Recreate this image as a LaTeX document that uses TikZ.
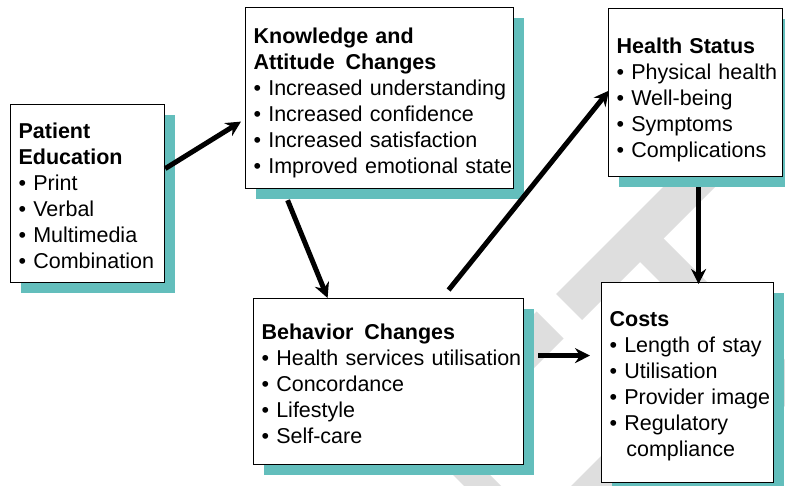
\documentclass[tikz,border=0pt]{standalone}
\usepackage{fontspec}
\setmainfont{Liberation Sans}
\usetikzlibrary{arrows.meta,shadows}

\definecolor{shadowteal}{RGB}{99,190,188}
\definecolor{markgray}{RGB}{222,222,222}

% one unbreakable line per entry
\newcommand\itm[1]{\mbox{\textbullet\ #1}}
\newcommand\ttl[1]{\mbox{\bfseries #1}}

\begin{document}
\begin{tikzpicture}[x=1pt,y=-1pt,
  box/.style={draw=black, line width=1.2pt, fill=white, anchor=north west,
    align=left, inner xsep=8pt, inner ysep=0pt,
    font=\fontsize{21.5}{26}\selectfont,
    drop shadow={shadow xshift=10pt, shadow yshift=-10pt,
      fill=shadowteal, opacity=1}},
  flow/.style={line width=5pt, -{Stealth[length=15pt,width=15pt,inset=5pt]}},
  wmark/.style={fill=markgray}]

\useasboundingbox (0,0) rectangle (785,486);
\clip (0,0) rectangle (785,486);

% faint diagonal watermark lettering
\fill[wmark] (556,294) -- (582,320) -- (731,171) -- (705,145) -- cycle;
\fill[wmark] (639,261) -- (662.5,237.5) -- (812.5,387.5) -- (789,411) -- cycle;
\fill[wmark] (414,434) -- (536.5,311.5) -- (563.5,338.5) -- (441,461) -- cycle;
\fill[wmark] (413,435) -- (431.5,416.5) -- (602.5,587.5) -- (584,606) -- cycle;
\fill[wmark] (517.5,539.5) -- (623.5,433.5) -- (647.5,457.5) -- (541.5,563.5) -- cycle;

% boxes
\node[box, minimum width=154pt, minimum height=178pt, text width=138pt] (pe) at (10,104)
  {\ttl{\rule{0pt}{20pt}Patient}\\\ttl{Education}\\\itm{Print}\\\itm{Verbal}\\\itm{Multimedia}\\\itm{Combination}};

\node[box, minimum width=268pt, minimum height=181pt, text width=252pt] (ka) at (245,7)
  {\ttl{\rule{0pt}{26pt}Knowledge and}\\\ttl{Attitude\enspace Changes}\\\itm{Increased understanding}\\\itm{Increased confidence}\\\itm{Increased satisfaction}\\\itm{Improved emotional state}};

\node[box, minimum width=174pt, minimum height=168pt, text width=158pt] (hs) at (608,8)
  {\ttl{\rule{0pt}{30pt}Health Status}\\\itm{Physical health}\\\itm{Well-being}\\\itm{Symptoms}\\\itm{Complications}};

\node[box, minimum width=270pt, minimum height=166pt, text width=254pt] (bc) at (253,298)
  {\ttl{\rule{0pt}{20pt}Behavior\enspace Changes}\\\itm{Health services utilisation}\\\itm{Concordance}\\\itm{Lifestyle}\\\itm{Self-care}};

\node[box, minimum width=172pt, minimum height=200pt, text width=156pt] (co) at (601,282)
  {\ttl{\rule{0pt}{22pt}Costs}\\\itm{Length of stay}\\\itm{Utilisation}\\\itm{Provider image}\\\itm{Regulatory}\\\mbox{\phantom{\textbullet\ }\hspace{2pt}compliance}};

% connectors
\draw[flow] ([yshift=25pt]pe.east) -- ([xshift=-4pt,yshift=-23.5pt]ka.west);
\draw[flow] ([xshift=-92pt,yshift=-11pt]ka.south) -- ([xshift=-61pt]bc.north);
\draw[flow] ([xshift=60pt,yshift=8pt]bc.north) -- ([xshift=1pt,yshift=2pt]hs.west);
\draw[flow] ([xshift=14pt,yshift=26pt]bc.east) -- ([xshift=-11pt,yshift=27pt]co.west);
\draw[flow] ([xshift=3pt,yshift=-10pt]hs.south) -- ([xshift=11pt,yshift=-2pt]co.north);
\end{tikzpicture}
\end{document}
